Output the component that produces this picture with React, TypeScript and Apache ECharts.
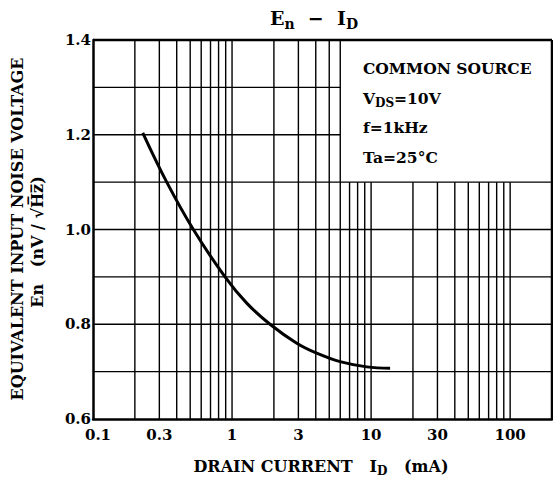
import React, { useEffect, useRef } from "react";
import * as echarts from "echarts";

// ---- data ----
const xMin = 0.1;
const xMax = 200;
const yMin = 0.6;
const yMax = 1.4;

const curveX = [0.228, 0.339, 0.527, 0.89, 1.28, 1.875, 2.92, 4.06, 5.98, 9.3, 13.7];
const curveY = [1.204, 1.1, 1.0, 0.9, 0.844, 0.8, 0.76, 0.739, 0.721, 0.71, 0.707];

const xTickValues = [0.1, 0.3, 1, 3, 10, 30, 100];
const xTickLabels = ["0.1", "0.3", "1", "3", "10", "30", "100"];

// vertical grid lines reaching the top (1.4)
const vFullLines = [0.2, 0.3, 0.4, 0.5, 0.6, 0.7, 0.8, 0.9, 1, 2, 3, 4, 5, 6, 200];
// vertical grid lines stopping under the condition box (1.1)
const vShortLines = [7, 8, 9, 10, 20, 30, 40, 50, 60, 70, 80, 90, 100];
const vShortTop = 1.1;
// horizontal grid lines across the whole width
const hFullLines = [0.7, 0.8, 0.9, 1.0, 1.1, 1.4];
// horizontal grid lines stopping at the condition box (6 mA)
const hShortLines = [1.2, 1.3];
const hShortRight = 6;

const conditions = ["COMMON SOURCE", "V{s|DS}=10V", "f=1kHz", "Ta=25°C"];

const FONT = "DejaVu Serif";

export default function App() {
  const ref = useRef<HTMLDivElement>(null);
  useEffect(() => {
    if (!ref.current) return;
    const chart = echarts.init(ref.current, undefined, { renderer: "svg" });

    const segments: number[][] = [];
    vFullLines.forEach((v) => segments.push([v, yMin, v, yMax]));
    vShortLines.forEach((v) => segments.push([v, yMin, v, vShortTop]));
    hFullLines.forEach((h) => segments.push([xMin, h, xMax, h]));
    hShortLines.forEach((h) => segments.push([xMin, h, hShortRight, h]));

    const curve = curveX.map((x, i) => [x, curveY[i]]);
    const ticks = xTickValues.map((v, i) => [v, yMin]);

    const subRich = {
      s: { fontFamily: FONT, fontWeight: "bold", fontSize: 12, padding: [10, 0, 0, 0], color: "#000" },
    };

    chart.setOption({
      animation: false,
      backgroundColor: "#fff",
      grid: { left: 93, top: 40, right: 1, bottom: 66, containLabel: false },
      xAxis: {
        type: "log",
        logBase: 10,
        min: xMin,
        max: xMax,
        axisLine: { show: true, lineStyle: { color: "#000", width: 2.5 } },
        axisTick: { show: false },
        axisLabel: { show: false },
        splitLine: { show: false },
      },
      yAxis: {
        type: "value",
        min: yMin,
        max: yMax,
        interval: 0.2,
        axisLine: { show: true, lineStyle: { color: "#000", width: 2.5 } },
        axisTick: { show: false },
        splitLine: { show: false },
        axisLabel: {
          color: "#000",
          fontFamily: FONT,
          fontWeight: "bold",
          fontSize: 15,
          margin: 2,
          formatter: (v: number) => v.toFixed(1),
        },
      },
      series: [
        {
          type: "custom",
          silent: true,
          data: segments,
          encode: { x: [0, 2], y: [1, 3] },
          renderItem: (params: any, api: any) => {
            const p1 = api.coord([api.value(0), api.value(1)]);
            const p2 = api.coord([api.value(2), api.value(3)]);
            const isBorder =
              (api.value(1) === yMax && api.value(3) === yMax) ||
              (api.value(0) === xMax && api.value(2) === xMax);
            return {
              type: "line",
              shape: { x1: p1[0], y1: p1[1], x2: p2[0], y2: p2[1] },
              style: { stroke: "#000", lineWidth: isBorder ? 2.5 : 1.4 },
            };
          },
          z: 1,
        },
        {
          type: "custom",
          silent: true,
          data: ticks,
          renderItem: (params: any, api: any) => {
            const p = api.coord([api.value(0), api.value(1)]);
            const idx = params.dataIndex;
            return {
              type: "text",
              x: p[0] + (idx === 0 ? 5 : 0),
              y: p[1] + 16,
              style: {
                text: xTickLabels[idx],
                fontFamily: FONT,
                fontWeight: "bold",
                fontSize: 15,
                fill: "#000",
                align: "center",
                verticalAlign: "middle",
              },
            };
          },
          z: 3,
        },
        {
          type: "line",
          data: curve,
          smooth: 0.4,
          showSymbol: false,
          lineStyle: { color: "#000", width: 3 },
          z: 5,
        },
      ],
      graphic: [
        {
          type: "text",
          x: 314,
          y: 18,
          style: {
            text: "E{t|n}  −  I{t|D}",
            align: "center",
            verticalAlign: "middle",
            fontFamily: FONT,
            fontWeight: "bold",
            fontSize: 19,
            fill: "#000",
            rich: { t: { fontFamily: FONT, fontWeight: "bold", fontSize: 14, padding: [11, 0, 0, 0], color: "#000" } },
          },
        },
        {
          type: "text",
          x: 321,
          y: 466,
          style: {
            text: "DRAIN CURRENT   I{s|D}   (mA)",
            align: "center",
            verticalAlign: "middle",
            fontFamily: FONT,
            fontWeight: "bold",
            fontSize: 16,
            fill: "#000",
            rich: subRich,
          },
        },
        {
          type: "text",
          x: 17,
          y: 229,
          rotation: Math.PI / 2,
          style: {
            text: "EQUIVALENT INPUT NOISE VOLTAGE",
            align: "center",
            verticalAlign: "middle",
            fontFamily: FONT,
            fontWeight: "bold",
            fontSize: 16,
            fill: "#000",
          },
        },
        {
          type: "text",
          x: 37,
          y: 242,
          rotation: Math.PI / 2,
          style: {
            text: "En   (nV / √H̅z̅)",
            align: "center",
            verticalAlign: "middle",
            fontFamily: FONT,
            fontWeight: "bold",
            fontSize: 16,
            fill: "#000",
          },
        },
        ...conditions.map((t, i) => ({
          type: "text",
          x: 363,
          y: [68, 98, 127, 157][i],
          style: {
            text: t,
            align: "left",
            verticalAlign: "middle",
            fontFamily: FONT,
            fontWeight: "bold",
            fontSize: 15.5,
            fill: "#000",
            rich: subRich,
          },
        })),
      ],
    });
    return () => chart.dispose();
  }, []);
  return (
    <div
      ref={ref}
      style={{ position: "fixed", left: 0, top: 0, width: 553, height: 485, background: "#fff" }}
    />
  );
}
